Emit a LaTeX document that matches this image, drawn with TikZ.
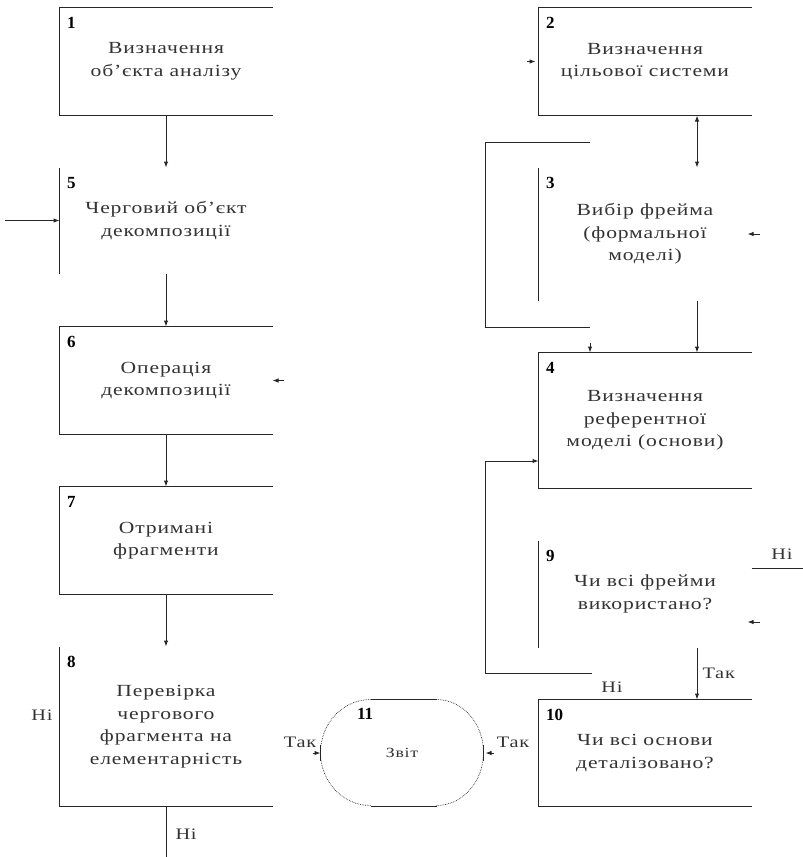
\documentclass[tikz,border=0pt]{standalone}
\usepackage{fontspec}
\setmainfont{Liberation Serif}
\newfontfamily\widefont{Liberation Serif}[FakeStretch=1.27, LetterSpace=5]
\usetikzlibrary{arrows.meta}

\begin{document}
\begin{tikzpicture}[x=1pt, y=-1pt, line width=1pt, draw=black!85,
    blk/.style={minimum width=212pt, inner sep=0pt, align=center, text=black!80,
      font=\widefont\fontsize{17}{22.5}\selectfont},
    nr/.style={label={[anchor=north west, inner sep=0pt, xshift=7pt, yshift=-9pt,
      font=\fontsize{17}{20}\selectfont\bfseries]north west:#1}},
    lbl/.style={inner sep=1pt, text=black!80, font=\widefont\fontsize{16}{20}\selectfont},
    arr/.style={-{Latex[length=6pt, width=4.5pt]}},
    arr2/.style={{Latex[length=6pt, width=4.5pt]}-{Latex[length=6pt, width=4.5pt]}}]
  \useasboundingbox (0,0) rectangle (803,857);

  % left column
  \node[blk, minimum height=107pt, nr=1] (b1) at (166,61.5) {Визначення\\об’єкта аналізу};
  \node[blk, minimum height=105pt, nr=5] (b5) at (166,220.5) {Черговий об’єкт\\декомпозиції};
  \node[blk, minimum height=107pt, nr=6] (b6) at (166,380.5) {Операція\\декомпозиції};
  \node[blk, minimum height=107pt, nr=7] (b7) at (166,540.5) {Отримані\\фрагменти};
  \node[blk, minimum height=159pt, nr=8] (b8) at (166,726.5) {Перевірка\\чергового\\фрагмента на\\елементарність};

  % right column
  \node[blk, minimum height=107pt, nr=2] (b2) at (645,61.5) {Визначення\\цільової системи};
  \node[blk, minimum height=132pt, nr=3] (b3) at (645,234) {Вибір фрейма\\(формальної\\моделі)};
  \node[blk, minimum height=135pt, nr=4] (b4) at (645,420.5) {Визначення\\референтної\\моделі (основи)};
  \node[blk, minimum height=106pt, nr=9] (b9) at (645,594) {Чи всі фрейми\\використано?};
  \node[blk, minimum height=106pt, nr=10] (b10) at (645,753) {Чи всі основи\\деталізовано?};

  % report
  \node[minimum width=162pt, minimum height=106pt, inner sep=0pt, text=black!80,
    font=\widefont\fontsize{14}{18}\selectfont,
    label={[anchor=north west, inner sep=0pt, xshift=36pt, yshift=-8pt,
      font=\fontsize{17}{20}\selectfont\bfseries]north west:11}] (r11) at (402,753) {Звіт};

  % box sides
  \foreach \b in {b1,b2,b4,b6,b7,b10}
    \draw (\b.north east) -- (\b.north west) -- (\b.south west) -- (\b.south east);
  \foreach \b in {b3,b5,b9}
    \draw (\b.north west) -- (\b.south west);
  \draw (b8.north west) -- (b8.south west) -- (b8.south east);
  \draw ([xshift=50pt]r11.north west) -- ([xshift=-47pt]r11.north east);
  \draw ([xshift=50pt]r11.south west) -- ([xshift=-47pt]r11.south east);
  \draw[densely dotted, line width=0.7pt] ([xshift=50pt]r11.north west)
    arc[start angle=90, end angle=270, x radius=50pt, y radius=53pt];
  \draw[densely dotted, line width=0.7pt] ([xshift=-47pt]r11.north east)
    arc[start angle=90, end angle=-90, x radius=47pt, y radius=53pt];
  \draw ([yshift=8pt]r11.west) -- ([yshift=-8pt]r11.west);
  \draw ([yshift=8pt]r11.east) -- ([yshift=-8pt]r11.east);

  % connectors
  \coordinate (in5) at (5,220.5);
  \coordinate (out8) at (166,857);
  \draw[arr] (b1) -- (b5);
  \draw[arr] (in5) -- (b5.west);
  \draw[arr] (b5) -- (b6);
  \draw[arr] (b6) -- (b7);
  \draw[arr] (b7) -- (b8);
  \draw (b8) -- (out8) node[lbl, pos=0.55, right=8pt] {Ні};
  \node[lbl] (n8) at (42,715) {Ні};

  \draw[arr2] ([xshift=52pt]b2.south) -- ([xshift=52pt]b3.north);
  \draw[arr] ([xshift=52pt]b3.south) -- ([xshift=52pt]b4.north);
  \draw[arr] ([xshift=52pt]b9.south) -- ([xshift=52pt]b10.north)
    node[lbl, midway, right=4pt] {Так};

  \coordinate (f1) at (590,142);
  \coordinate (f2) at (590,327);
  \coordinate (fl) at (485,327);
  \draw (f1) -| (fl) -- (f2);
  \draw[arr] ([yshift=10pt]b4.north -| f2) -- (b4.north -| f2);

  \coordinate (l1) at (592,673);
  \coordinate (l2) at (485,461);
  \draw[arr] (l1) -| (l2) -- ([yshift=-40.5pt]b4.west);
  \node[lbl] (n9) at (612,687) {Ні};

  \node[lbl] (n9r) at (782,554) {Ні};
  \draw ([yshift=26pt]b9.east) -- ++(51,0);

  % loose arrow ends
  \draw[arr] ([xshift=-12pt]b2.west) -- ([xshift=-3pt]b2.west);
  \draw[arr] ([xshift=8pt]b3.east) -- ([xshift=-4pt]b3.east);
  \draw[arr] ([xshift=11pt]b6.east) -- (b6.east);
  \draw[arr] ([xshift=8pt, yshift=-28pt]b9.east) -- ([xshift=-4pt, yshift=-28pt]b9.east);
  \draw[arr] ([xshift=-8pt]r11.west) -- (r11.west);
  \draw[arr] ([xshift=10pt]r11.east) -- ([xshift=2pt]r11.east);
  \node[lbl] (t8) at (300,742) {Так};
  \node[lbl] (t10) at (513,742) {Так};
\end{tikzpicture}
\end{document}
